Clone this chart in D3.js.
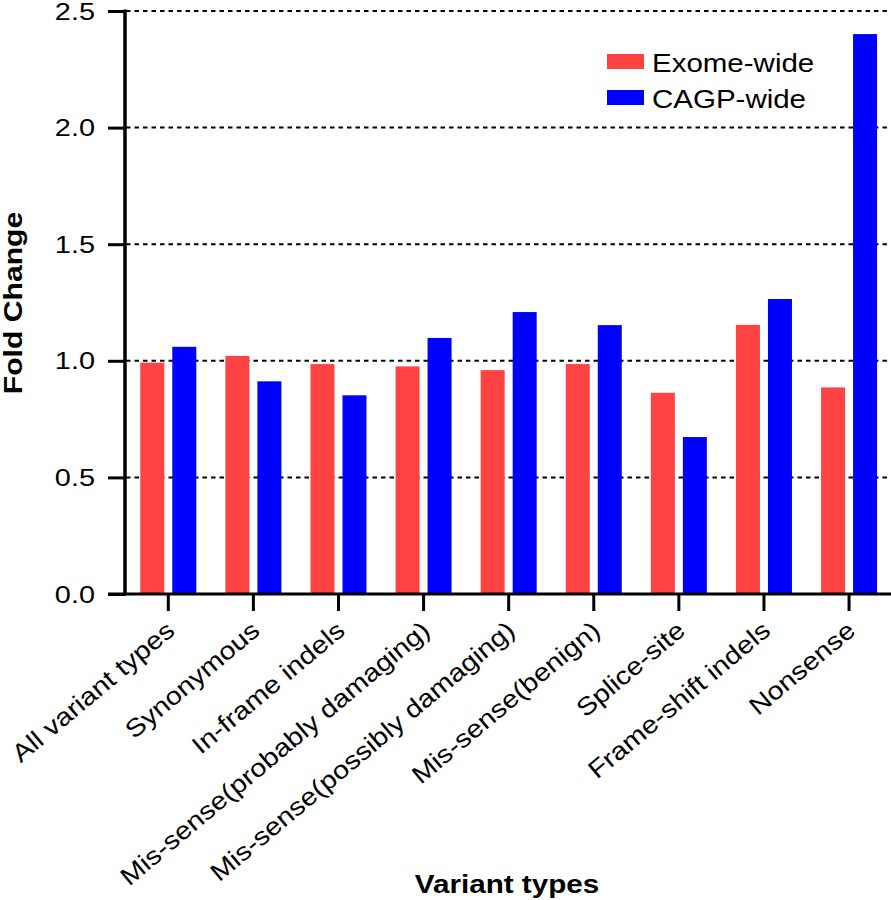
<!DOCTYPE html>
<html>
<head>
<meta charset="utf-8">
<script src="https://cdn.jsdelivr.net/npm/d3@7"></script>
<style>
html,body{margin:0;padding:0;background:#fff;}
svg text{font-family:"Liberation Sans",Arial,Helvetica,sans-serif;fill:#000;}
</style>
</head>
<body>
<svg id="chart" width="891" height="900"></svg>
<script>
const categories = ["All variant types","Synonymous","In-frame indels","Mis-sense(probably damaging)","Mis-sense(possibly damaging)","Mis-sense(benign)","Splice-site","Frame-shift indels","Nonsense"];
const seriesNames = ["Exome-wide","CAGP-wide"];
const exomeWide = [0.992, 1.021, 0.986, 0.976, 0.960, 0.986, 0.863, 1.154, 0.886];
const cagpWide  = [1.060, 0.912, 0.852, 1.098, 1.209, 1.153, 0.673, 1.265, 2.401];
const yTicks = [0, 0.5, 1.0, 1.5, 2.0, 2.5];
const colors = ["#ff4343", "#0000ff"];

const svg = d3.select("#chart");
const SX = 1.18;

function label(x, y, str, o) {
  o = o || {};
  const t = svg.append("text")
    .attr("transform", `translate(${x},${y}) rotate(${o.rot || 0}) scale(${o.sx || SX},1)`)
    .attr("text-anchor", o.anchor || "start")
    .style("font-size", (o.size || 25) + "px")
    .style("font-weight", o.bold ? "bold" : "normal")
    .text(str);
  return t;
}

const y = d3.scaleLinear().domain([0, 2.5]).range([594, 11]);
const x = d3.scaleBand().domain(categories).range([125.75, 891.6]).padding(0);
const xs = d3.scaleBand().domain(seriesNames).range([0, 56]).paddingInner(0.25).paddingOuter(0);

// gridlines
svg.append("g").selectAll("line").data(yTicks.filter(d => d > 0)).join("line")
  .attr("x1", 126).attr("x2", 890)
  .attr("y1", d => y(d)).attr("y2", d => y(d))
  .attr("stroke", "#000").attr("stroke-width", 2)
  .attr("stroke-dasharray", "4.5,4");

// bars
const rows = categories.map((c, i) => ({c, vals: [exomeWide[i], cagpWide[i]]}));
const grp = svg.append("g").selectAll("g").data(rows).join("g")
  .attr("transform", d => `translate(${x(d.c) + x.bandwidth()/2 - 28},0)`);
grp.selectAll("rect").data(d => d.vals.map((v, j) => ({v, s: seriesNames[j], j}))).join("rect")
  .attr("x", d => xs(d.s))
  .attr("width", xs.bandwidth())
  .attr("y", d => y(d.v))
  .attr("height", d => y(0) - y(d.v))
  .attr("fill", d => colors[d.j]);

// y axis
const yAxis = d3.axisLeft(y).tickValues(yTicks).tickSize(17).tickFormat("");
const yg = svg.append("g").attr("transform", "translate(125,0)").call(yAxis);
yg.select(".domain").remove();
yg.selectAll(".tick line").attr("stroke", "#000").attr("stroke-width", 3);
svg.append("line").attr("x1", 125).attr("x2", 125).attr("y1", y(2.5) - 1.5).attr("y2", y(0) + 1.5)
  .attr("stroke", "#000").attr("stroke-width", 3.5);
yTicks.forEach(t => label(95, y(t) + 8.5, d3.format(".1f")(t), {anchor: "end", size: 24.5}));

// x axis
const xAxis = d3.axisBottom(x).tickSize(17).tickFormat("");
const xg = svg.append("g").attr("transform", `translate(0,${y(0)})`).call(xAxis);
xg.select(".domain").remove();
xg.selectAll(".tick line").attr("stroke", "#000").attr("stroke-width", 3);
svg.append("line").attr("x1", 108).attr("x2", 891).attr("y1", y(0)).attr("y2", y(0))
  .attr("stroke", "#000").attr("stroke-width", 3);

categories.forEach(c => {
  label(x(c) + x.bandwidth()/2 + 8, 633, c, {anchor: "end", rot: -40, size: 25, sx: 1.15});
});

// axis titles
label(507, 893, "Variant types", {anchor: "middle", size: 26, bold: true, sx: 1.14});
label(22, 303, "Fold Change", {anchor: "middle", size: 26, bold: true, sx: 1.16, rot: -90});

// legend
const leg = [{n: seriesNames[0], c: colors[0], y: 54}, {n: seriesNames[1], c: colors[1], y: 90}];
leg.forEach(l => {
  svg.append("rect").attr("x", 607).attr("y", l.y).attr("width", 37).attr("height", 15).attr("fill", l.c);
  label(652, l.y + 17.5, l.n, {size: 25});
});
</script>
</body>
</html>
